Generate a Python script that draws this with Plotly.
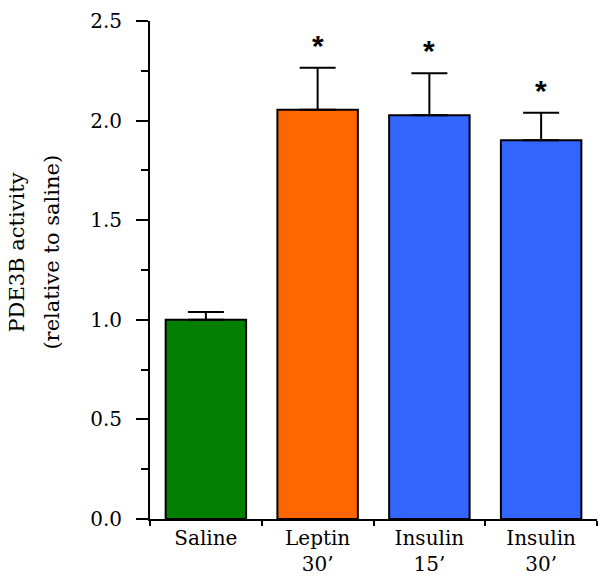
import plotly.graph_objects as go

categories = ["Saline", "Leptin<br>30’", "Insulin<br>15’", "Insulin<br>30’"]
values = [1.00, 2.055, 2.027, 1.901]
errors = [0.039, 0.21, 0.211, 0.139]
colors = ["#007F00", "#FF6600", "#3366FF", "#3366FF"]
significant = [False, True, True, True]
title_lines = ["PDE3B activity", "(relative to saline)"]

font_family = "DejaVu Serif"

fig = go.Figure()
fig.add_trace(go.Bar(
    x=categories, y=values,
    marker=dict(color=colors, line=dict(color="black", width=2)),
    width=0.72,
    error_y=dict(type="data", symmetric=False, array=errors,
                 arrayminus=[0] * len(values),
                 color="black", thickness=2, width=18),
))

for c, v, e, s in zip(categories, values, errors, significant):
    if s:
        fig.add_annotation(x=c, y=v + e, text="<b>*</b>", showarrow=False,
                           yanchor="bottom", yshift=4,
                           font=dict(family="Liberation Sans", size=30, color="black"))

for i, (line, shift) in enumerate(zip(title_lines, [-133, -98])):
    fig.add_annotation(xref="paper", yref="paper", x=0, y=0.535, text=line,
                       textangle=-90, showarrow=False, xanchor="center",
                       yanchor="middle", xshift=shift,
                       font=dict(family=font_family, size=21, color="black"))

fig.update_layout(
    width=604, height=584,
    margin=dict(l=150, r=7, t=21, b=65),
    plot_bgcolor="white", paper_bgcolor="white",
    showlegend=False,
    font=dict(family=font_family, size=20, color="black"),
)
fig.update_xaxes(
    showline=True, linecolor="black", linewidth=2,
    ticks="outside", tickson="boundaries", ticklen=5, tickwidth=2, tickcolor="black",
    tickfont=dict(family=font_family, size=20),
    showgrid=False, zeroline=False,
)
fig.update_yaxes(
    range=[0, 2.5], tickvals=[0, 0.5, 1.0, 1.5, 2.0, 2.5],
    ticktext=["0.0", "0.5", "1.0", "1.5", "2.0", "2.5"],
    showline=True, linecolor="black", linewidth=2,
    ticks="outside", ticklen=12, tickwidth=2, tickcolor="black",
    ticklabelstandoff=10,
    minor=dict(tickvals=[0.25, 0.75, 1.25, 1.75, 2.25], ticks="outside",
               ticklen=7, tickwidth=2, tickcolor="black"),
    tickfont=dict(family=font_family, size=20),
    showgrid=False, zeroline=False,
)

fig.write_html("out.html", config={"displayModeBar": False},
               post_script="document.body.style.margin='0px';")
